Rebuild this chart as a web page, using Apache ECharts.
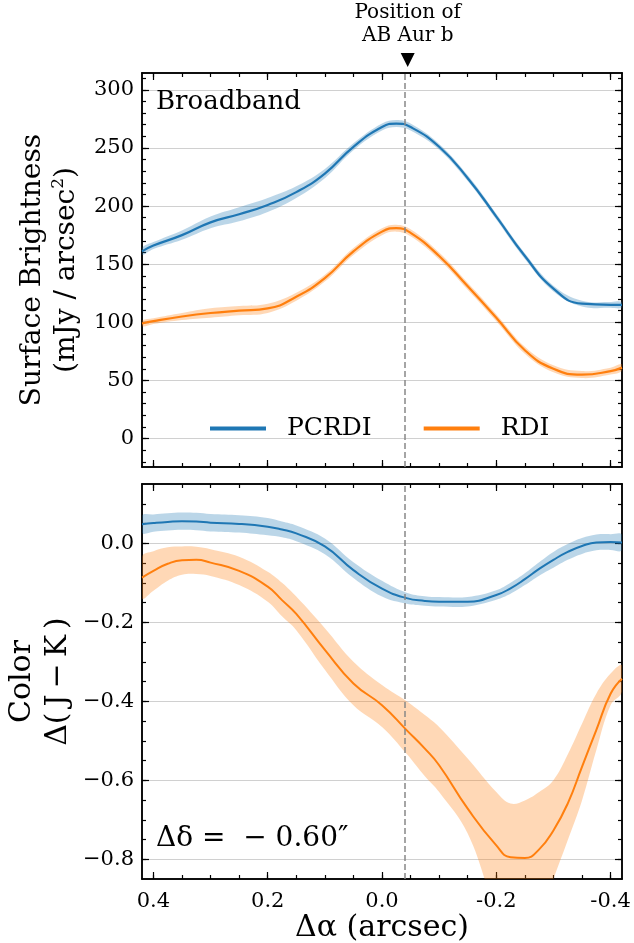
<!DOCTYPE html>
<html><head><meta charset="utf-8">
<script src="https://cdn.jsdelivr.net/npm/echarts@6/dist/echarts.min.js"></script>
<style>html,body{margin:0;padding:0;background:#fff}#c{width:634px;height:943px}</style>
</head><body><div id="c"></div>
<script>
// ---------- data ----------
const planetX = -0.045;

// Top panel: surface brightness (mJy / arcsec^2)
const xSB = [0.42, 0.4, 0.35, 0.3, 0.25, 0.2, 0.15, 0.1, 0.05, 0.0, -0.025, -0.05, -0.1, -0.15, -0.2, -0.25, -0.3, -0.35, -0.4, -0.42];
const pcrdiSB   = [161, 166, 175, 186, 193, 201, 212, 228, 251, 268, 271, 268, 251, 224, 191, 157, 129, 116, 115, 115];
const pcrdiSBLo = [158, 163, 171, 181, 187, 195, 207, 224, 248, 265, 268, 265, 248.5, 221.5, 188.5, 154.5, 126.5, 113.5, 112.5, 112.5];
const pcrdiSBHi = [164, 169, 179, 191, 199, 207, 217, 232, 254, 271, 274, 271, 253.5, 226.5, 193.5, 159.5, 131.5, 118.5, 117.5, 117.5];
const rdiSB     = [99, 101, 105, 108, 110, 112, 122, 138, 161, 178, 181, 177, 157, 131, 104, 76, 60, 55, 58, 61];
const rdiSBLo   = [96.5, 98.5, 102, 104, 106, 108, 118.5, 135, 158, 175, 178, 174, 154, 128, 101, 73, 57, 52, 55, 58];
const rdiSBHi   = [101.5, 103.5, 108, 112, 114, 116, 125.5, 141, 164, 181, 184, 180, 160, 134, 107, 79, 63, 58, 61, 64];

// Bottom panel: color Δ(J−K)
const xCol = [0.42, 0.4, 0.375, 0.35, 0.325, 0.3, 0.25, 0.2, 0.175, 0.15, 0.1, 0.05, 0.0, -0.043, -0.075, -0.1, -0.15, -0.2, -0.225, -0.25, -0.275, -0.3, -0.325, -0.35, -0.375, -0.4, -0.42];
const pcrdiCol   = [0.048, 0.051, 0.054, 0.056, 0.055, 0.052, 0.049, 0.042, 0.035, 0.025, -0.008, -0.068, -0.115, -0.139, -0.146, -0.148, -0.148, -0.131, -0.114, -0.091, -0.065, -0.042, -0.022, -0.007, 0.002, 0.003, 0.002];
const pcrdiColLo = [0.026, 0.029, 0.032, 0.034, 0.033, 0.030, 0.027, 0.020, 0.015, 0.005, -0.028, -0.088, -0.135, -0.153, -0.158, -0.160, -0.160, -0.143, -0.128, -0.106, -0.082, -0.062, -0.042, -0.027, -0.018, -0.017, -0.018];
const pcrdiColHi = [0.070, 0.073, 0.076, 0.078, 0.077, 0.074, 0.071, 0.064, 0.055, 0.045, 0.012, -0.048, -0.095, -0.125, -0.134, -0.136, -0.136, -0.119, -0.100, -0.076, -0.048, -0.022, -0.002, 0.013, 0.022, 0.023, 0.022];
const rdiCol   = [-0.087, -0.070, -0.052, -0.043, -0.042, -0.049, -0.070, -0.110, -0.144, -0.179, -0.270, -0.355, -0.410, -0.473, -0.520, -0.562, -0.672, -0.765, -0.795, -0.797, -0.775, -0.727, -0.659, -0.566, -0.473, -0.381, -0.343];
const rdiColLo = [-0.139, -0.120, -0.095, -0.080, -0.078, -0.083, -0.106, -0.148, -0.185, -0.220, -0.320, -0.410, -0.465, -0.533, -0.590, -0.630, -0.735, -0.930, -0.980, -0.990, -0.950, -0.850, -0.752, -0.651, -0.524, -0.410, -0.376];
const rdiColHi = [-0.034, -0.020, -0.010, -0.008, -0.009, -0.015, -0.034, -0.072, -0.100, -0.135, -0.215, -0.300, -0.359, -0.400, -0.435, -0.465, -0.545, -0.630, -0.659, -0.651, -0.630, -0.600, -0.535, -0.457, -0.381, -0.330, -0.309];

// ticks
const xMajor = [0.4, 0.2, 0.0, -0.2, -0.4];
const sbMajor = [0, 50, 100, 150, 200, 250, 300];
const colMajor = [-0.8, -0.6, -0.4, -0.2, 0.0];
function range(a, b, step) { const out = []; const n = Math.round((b - a) / step); for (let i = 0; i <= n; i++) out.push(+(a + i * step).toFixed(4)); return out; }
const xMinor = range(-0.4, 0.4, 0.05);
const sbMinor = range(-20, 310, 10);
const colMinor = range(-0.8, 0.1, 0.05);

// ---------- style ----------
const FONT = 'DejaVu Serif';
const BLUE = '#1f77b4', ORANGE = '#ff7f0e';
const BLUE_BAND = 'rgba(31,119,180,0.3)', ORANGE_BAND = 'rgba(255,127,14,0.3)';
const XR = { min: -0.42, max: 0.42 };
const YR = [{ min: -24.5, max: 314.5 }, { min: -0.85, max: 0.15 }];
const SMOOTH = 0.5;

function xAx(grid, pos, ticks, len, extra) {
  return Object.assign({
    type: 'value', gridIndex: grid, position: pos, min: XR.min, max: XR.max, inverse: true,
    axisLine: { show: true, onZero: false, lineStyle: { color: '#000', width: 1.5 } },
    axisTick: { show: true, inside: true, length: len, customValues: ticks, lineStyle: { color: '#000', width: 1.2 } },
    axisLabel: { show: false }, splitLine: { show: false }, minorTick: { show: false }
  }, extra || {});
}
function yAx(grid, pos, ticks, len, extra) {
  return Object.assign({
    type: 'value', gridIndex: grid, position: pos, min: YR[grid].min, max: YR[grid].max,
    axisLine: { show: true, onZero: false, lineStyle: { color: '#000', width: 1.5 } },
    axisTick: { show: true, inside: true, length: len, customValues: ticks, lineStyle: { color: '#000', width: 1.2 } },
    axisLabel: { show: false }, splitLine: { show: false }, minorTick: { show: false }
  }, extra || {});
}
const lblStyle = { show: true, fontFamily: FONT, fontSize: 21, color: '#000' };

const xAxes = [];
for (let g = 0; g < 2; g++) {
  const bottomExtra = g === 1 ? {
    axisLabel: Object.assign({}, lblStyle, { customValues: xMajor, margin: 12, formatter: v => v.toFixed(1) }),
    name: 'Δα (arcsec)', nameLocation: 'middle', nameGap: 34, nameMoveOverlap: false,
    nameTextStyle: { fontFamily: FONT, fontSize: 30, color: '#000' }
  } : {};
  xAxes.push(xAx(g, 'bottom', xMajor, 7, bottomExtra));
  xAxes.push(xAx(g, 'top', xMajor, 7));
  xAxes.push(xAx(g, 'bottom', xMinor, 4));
  xAxes.push(xAx(g, 'top', xMinor, 4));
}
const yAxes = [];
yAxes.push(yAx(0, 'left', sbMajor, 7, {
  axisLabel: Object.assign({}, lblStyle, { customValues: sbMajor, margin: 8, formatter: v => String(Math.round(v)) }),
  splitLine: { show: true, lineStyle: { color: '#d0d0d0', width: 1 } },
  name: 'Surface Brightness\n(mJy / arcsec{sup|2})', nameLocation: 'middle', nameGap: 58, nameMoveOverlap: false,
  nameTextStyle: { fontFamily: FONT, fontSize: 28, lineHeight: 34, color: '#000',
    rich: { sup: { fontFamily: FONT, fontSize: 17, lineHeight: 34, verticalAlign: 'top', padding: [0, 0, 14, 0], color: '#000' } } }
}));
yAxes.push(yAx(0, 'right', sbMajor, 7));
yAxes.push(yAx(0, 'left', sbMinor, 4));
yAxes.push(yAx(0, 'right', sbMinor, 4));
yAxes.push(yAx(1, 'left', colMajor, 7, {
  axisLabel: Object.assign({}, lblStyle, { customValues: colMajor, margin: 8, formatter: v => v.toFixed(1).replace('-', '\u2212') }),
  splitLine: { show: true, lineStyle: { color: '#d0d0d0', width: 1 } },
  name: 'Color\nΔ(\u2009J\u2009\u2212\u2009K\u2009)', nameLocation: 'middle', nameGap: 66, nameMoveOverlap: false,
  nameTextStyle: { fontFamily: FONT, fontSize: 30, lineHeight: 36, color: '#000' }
}));
yAxes.push(yAx(1, 'right', colMajor, 7));
yAxes.push(yAx(1, 'left', colMinor, 4));
yAxes.push(yAx(1, 'right', colMinor, 4));

const pairs = (xs, ys) => xs.map((x, i) => [x, ys[i]]);

// uncertainty band drawn as one smoothed polygon through the axis scales
function band(g, xs, lo, hi, color) {
  const ax = g * 4;
  return {
    type: 'custom', xAxisIndex: ax, yAxisIndex: ax, silent: true, z: 1, clip: true,
    data: xs.map((x, i) => [x, lo[i], hi[i]]),
    encode: { x: 0, y: [1, 2] },
    renderItem: function (params, api) {
      if (params.dataIndex !== 0) return null;
      const pts = [];
      for (let i = 0; i < xs.length; i++) pts.push(api.coord([xs[i], hi[i]]));
      for (let i = xs.length - 1; i >= 0; i--) pts.push(api.coord([xs[i], lo[i]]));
      const cs = params.coordSys;
      return {
        type: 'polygon', shape: { points: pts, smooth: 0.4 },
        style: { fill: color },
        clipPath: { type: 'rect', shape: { x: cs.x, y: cs.y, width: cs.width, height: cs.height } }
      };
    }
  };
}
function line(name, g, xs, ys, color, width, extra) {
  const ax = g * 4;
  return Object.assign({ type: 'line', name: name, xAxisIndex: ax, yAxisIndex: ax, data: pairs(xs, ys), smooth: SMOOTH,
    symbol: 'none', color: color, itemStyle: { color: color }, lineStyle: { color: color, width: width }, z: 3 }, extra || {});
}
const vline = { markLine: { silent: true, symbol: ['none', 'none'], label: { show: false },
  lineStyle: { color: '#888', type: [6, 3], width: 1.5 }, data: [{ xAxis: planetX }], animation: false } };

const series = [
  band(0, xSB, pcrdiSBLo, pcrdiSBHi, BLUE_BAND),
  band(0, xSB, rdiSBLo, rdiSBHi, ORANGE_BAND),
  line('PCRDI', 0, xSB, pcrdiSB, BLUE, 2.2),
  line('RDI', 0, xSB, rdiSB, ORANGE, 2.2, vline),
  band(1, xCol, pcrdiColLo, pcrdiColHi, BLUE_BAND),
  band(1, xCol, rdiColLo, rdiColHi, ORANGE_BAND),
  line('PCRDI', 1, xCol, pcrdiCol, BLUE, 2),
  line('RDI', 1, xCol, rdiCol, ORANGE, 2, vline)
];

const option = {
  animation: false,
  backgroundColor: '#fff',
  grid: [
    { left: 142, top: 73, width: 480, height: 394, outerBoundsMode: 'none', containLabel: false },
    { left: 142, top: 484, width: 480, height: 395, outerBoundsMode: 'none', containLabel: false }
  ],
  xAxis: xAxes,
  yAxis: yAxes,
  legend: {
    data: ['PCRDI', 'RDI'], left: 210, top: 416, padding: 0, itemGap: 52,
    icon: 'rect', itemWidth: 56, itemHeight: 4, selectedMode: false,
    textStyle: { fontFamily: FONT, fontSize: 25, color: '#000', padding: [0, 0, 0, 16] }
  },
  series: series
};

const chart = echarts.init(document.getElementById('c'), null, { renderer: 'canvas' });
chart.setOption(option);
const tp = chart.convertToPixel({ xAxisIndex: 0, yAxisIndex: 0 }, [planetX, YR[0].max]);
chart.setOption({
  graphic: [
    { type: 'text', left: 156, top: 89, style: { text: 'Broadband', font: '26px "DejaVu Serif"', fill: '#000' } },
    { type: 'text', left: 156, top: 825, style: { text: 'Δδ =  \u2212 0.60\u2033', font: '28px "DejaVu Serif"', fill: '#000' } },
    { type: 'polygon', shape: { points: [[tp[0] - 7, tp[1] - 20], [tp[0] + 7, tp[1] - 20], [tp[0], tp[1] - 6]] }, style: { fill: '#000' } },
    { type: 'text', x: tp[0], y: tp[1] - 49, style: { text: 'Position of\nAB Aur b', font: '20px "DejaVu Serif"', lineHeight: 23, fill: '#000', textAlign: 'center', textVerticalAlign: 'middle' } }
  ]
});
</script>
</body></html>
